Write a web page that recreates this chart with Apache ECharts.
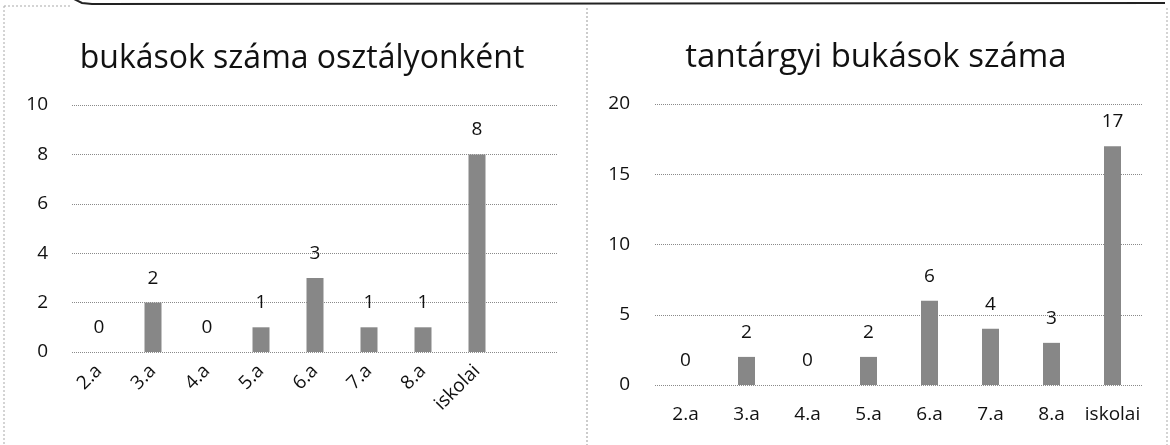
<!DOCTYPE html>
<html>
<head>
<meta charset="utf-8">
<script src="https://cdn.jsdelivr.net/npm/echarts@6/dist/echarts.min.js"></script>
<style>html,body{margin:0;padding:0;background:#fff}#c{width:1170px;height:445px}</style>
</head>
<body>
<div id="c"></div>
<script>
var categoriesLeft = ['2.a','3.a','4.a','5.a','6.a','7.a','8.a','iskolai',''];
var valuesLeft = [0, 2, 0, 1, 3, 1, 1, 8, null];
var categoriesRight = ['2.a','3.a','4.a','5.a','6.a','7.a','8.a','iskolai'];
var valuesRight = [0, 2, 0, 2, 6, 4, 3, 17];
var titleLeft = 'bukások száma osztályonként';
var titleRight = 'tantárgyi bukások száma';

var FONT = 'Open Sans';
var chart = echarts.init(document.getElementById('c'));
var barStyle = { color: '#878787', borderWidth: 0 };
var labelStyle = { show: true, position: 'top', distance: 15, color: '#111', fontSize: 19, fontFamily: FONT };
chart.setOption({
  backgroundColor: '#fff',
  animation: false,
  title: [
    { text: titleLeft, left: 297, top: 38, textAlign: 'center',
      textStyle: { fontFamily: FONT, fontSize: 32, fontWeight: 'normal', color: '#111' } },
    { text: titleRight, left: 871, top: 36, textAlign: 'center',
      textStyle: { fontFamily: FONT, fontSize: 33, fontWeight: 'normal', color: '#111' } }
  ],
  grid: [
    { left: 72, right: 612, top: 105, bottom: 93, containLabel: false },
    { left: 655, right: 27, top: 104, bottom: 60, containLabel: false }
  ],
  xAxis: [
    { type: 'category', gridIndex: 0, data: categoriesLeft,
      axisLine: { show: false }, axisTick: { show: false },
      axisLabel: { rotate: 45, margin: 16, fontSize: 19, fontFamily: FONT, color: '#111', interval: 0 } },
    { type: 'category', gridIndex: 1, data: categoriesRight,
      axisLine: { show: false }, axisTick: { show: false },
      axisLabel: { margin: 20, fontSize: 19, fontFamily: FONT, color: '#111', interval: 0 } }
  ],
  yAxis: [
    { type: 'value', gridIndex: 0, min: 0, max: 10, interval: 2,
      axisLine: { show: false }, axisTick: { show: false },
      axisLabel: { margin: 24, fontSize: 19, fontFamily: FONT, color: '#111' },
      splitLine: { lineStyle: { type: 'dotted', color: '#8a8a8a', width: 1 } } },
    { type: 'value', gridIndex: 1, min: 0, max: 20, interval: 5,
      axisLine: { show: false }, axisTick: { show: false },
      axisLabel: { margin: 25, fontSize: 19, fontFamily: FONT, color: '#111' },
      splitLine: { lineStyle: { type: 'dotted', color: '#8a8a8a', width: 1 } } }
  ],
  series: [
    { type: 'bar', xAxisIndex: 0, yAxisIndex: 0, data: valuesLeft, barWidth: 17,
      itemStyle: barStyle, label: labelStyle },
    { type: 'bar', xAxisIndex: 1, yAxisIndex: 1, data: valuesRight, barWidth: 17,
      itemStyle: barStyle, label: labelStyle }
  ],
  graphic: [
    { type: 'line', shape: { x1: 587, y1: 8, x2: 587, y2: 445 },
      style: { stroke: '#9a9a9a', lineWidth: 1, lineDash: [2, 2] } },
    { type: 'line', shape: { x1: 4, y1: 6, x2: 4, y2: 445 },
      style: { stroke: '#aaaaaa', lineWidth: 1, lineDash: [2, 2] } },
    { type: 'line', shape: { x1: 1167, y1: 8, x2: 1167, y2: 445 },
      style: { stroke: '#aaaaaa', lineWidth: 1, lineDash: [2, 2] } },
    { type: 'polyline', shape: { points: [[72, -2], [82, 3], [92, 4], [1165, 3]] },
      style: { stroke: '#222', lineWidth: 2, fill: null } },
    { type: 'line', shape: { x1: 4, y1: 6, x2: 72, y2: 6 },
      style: { stroke: '#aaaaaa', lineWidth: 1, lineDash: [2, 2] } }
  ]
});
</script>
</body>
</html>
